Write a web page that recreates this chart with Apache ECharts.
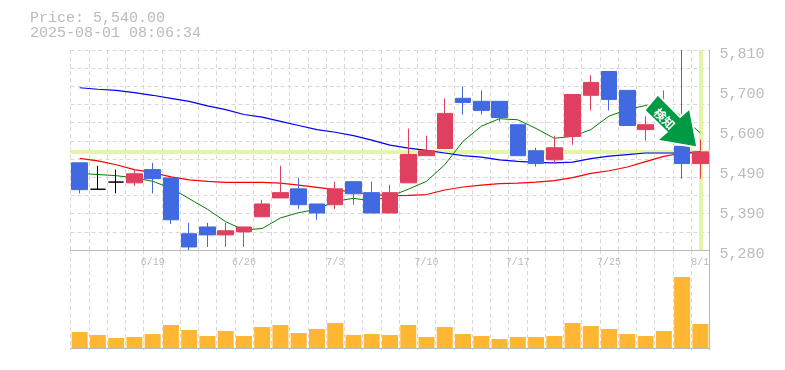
<!DOCTYPE html>
<html>
<head>
<meta charset="utf-8">
<style>html,body{margin:0;padding:0;background:#fff}#chart{width:785px;height:370px}</style>
<script src="https://cdn.jsdelivr.net/npm/echarts@6/dist/echarts.min.js"></script>
</head>
<body>
<div id="chart"></div>
<script>
var dates = ['6/13','6/16','6/17','6/18','6/19','6/20','6/23','6/24','6/25','6/26','6/27','6/30','7/1','7/2','7/3','7/4','7/7','7/8','7/9','7/10','7/11','7/14','7/15','7/16','7/17','7/18','7/22','7/23','7/24','7/25','7/28','7/29','7/30','7/31','8/1'];
// open, close, low, high
var candles = [
  [5511,5440,5430,5511],[5441,5441,5441,5503],[5460,5460,5430,5493],[5458,5482,5450,5494],[5493,5469,5430,5511],
  [5471,5360,5349,5471],[5323,5288,5280,5352],[5341,5320,5288,5352],[5320,5331,5288,5352],[5328,5341,5288,5341],
  [5368,5402,5368,5413],[5418,5432,5418,5503],[5442,5400,5389,5471],[5402,5378,5360,5402],[5400,5442,5389,5461],
  [5461,5429,5400,5461],[5432,5378,5378,5461],[5378,5432,5378,5453],[5458,5533,5458,5602],[5530,5543,5530,5583],
  [5549,5642,5549,5682],[5682,5671,5639,5713],[5674,5650,5639,5703],[5674,5631,5620,5674],[5612,5530,5530,5612],
  [5543,5509,5501,5551],[5519,5551,5509,5583],[5581,5692,5559,5692],[5690,5724,5650,5743],[5753,5679,5650,5753],
  [5703,5610,5610,5703],[5599,5612,5570,5634],[5630,5650,5600,5703],[5555,5509,5469,5810],[5509,5540,5469,5573]
];
var maShort = [5483,5480,5477,5471,5462,5444,5416,5388,5355,5333,5337,5365,5379,5388,5409,5417,5410,5422,5441,5462,5506,5568,5608,5628,5625,5602,5576,5581,5599,5635,5652,5663,5668,5633,5590];
var maMid = [5523,5516,5506,5493,5485,5474,5466,5462,5459,5459,5459,5457,5452,5446,5440,5433,5427,5424,5425,5427,5439,5447,5452,5456,5457,5460,5464,5472,5483,5490,5500,5514,5528,5537,5541];
var maLong = [5710,5706,5703,5697,5690,5682,5674,5662,5652,5639,5632,5621,5610,5599,5592,5583,5571,5558,5550,5544,5537,5530,5526,5519,5515,5512,5511,5513,5522,5529,5533,5537,5537,5537,5538];
var volumes = [16000,13000,10000,11000,14000,23000,18000,12000,17000,12000,21000,23000,15000,19000,25000,13000,14000,13000,23000,11000,21000,14000,12000,9000,11000,11000,12000,25000,22000,19000,14000,12000,17000,71000,24000];
var priceTicks = [5280,5386,5492,5598,5704,5810];
var currentPrice = 5540;

var mono = '"Liberation Mono", monospace';
var grey = '#bbbbbb';
var dash = {color:'#d8d8d8', width:1, type:[4,3]};
var arrowPath = 'path://M13 0 L0 15.3 L21.5 36 L12 44.3 L51 51 L43.7 13.3 L34.3 21.6 Z';

var myChart = echarts.init(document.getElementById('chart'));
myChart.setOption({
  animation: false,
  backgroundColor: '#fff',
  title: {
    text: 'Price: 5,540.00\n2025-08-01 08:06:34',
    left: 25, top: 6,
    textStyle: {fontFamily: mono, fontSize: 15, fontWeight: 'normal', color: grey, lineHeight: 15}
  },
  grid: [
    {left: 70.5, top: 50, width: 639, height: 200},
    {left: 70.5, top: 250, width: 639, height: 100}
  ],
  xAxis: [
    {
      type: 'category', gridIndex: 0, data: dates,
      axisLine: {lineStyle: {color: grey, width: 1}},
      axisTick: {show: false},
      axisLabel: {
        color: grey, fontFamily: mono, fontSize: 10, margin: 7,
        interval: function (i) { return (i + 1) % 5 === 0; }
      },
      splitLine: {show: true, interval: 0, lineStyle: dash}
    },
    {
      type: 'category', gridIndex: 1, data: dates,
      axisLine: {lineStyle: {color: grey, width: 1}},
      axisTick: {show: false},
      axisLabel: {show: false},
      splitLine: {show: true, interval: 0, lineStyle: dash}
    }
  ],
  yAxis: [
    {
      type: 'value', gridIndex: 0, position: 'right', min: 5280, max: 5810, scale: true,
      axisLine: {show: true, lineStyle: {color: grey, width: 1}},
      axisTick: {show: false},
      splitLine: {show: false},
      axisLabel: {
        color: grey, fontFamily: mono, fontSize: 15, margin: 10,
        customValues: priceTicks, verticalAlign: 'top', lineHeight: 9,
        formatter: function (v) { return (Math.round(v / 10) * 10).toLocaleString('en-US'); }
      }
    },
    {
      // only there for the dashed rows, they do not line up with the price labels
      type: 'value', gridIndex: 0, min: 0, max: 11, interval: 1,
      axisLine: {show: false}, axisTick: {show: false}, axisLabel: {show: false},
      splitLine: {show: true, lineStyle: dash}
    },
    {
      type: 'value', gridIndex: 1, position: 'right', min: -2000, max: 98000,
      axisLine: {show: true, lineStyle: {color: grey, width: 1}},
      axisTick: {show: false}, axisLabel: {show: false}, splitLine: {show: false}
    }
  ],
  series: [
    {
      type: 'line', xAxisIndex: 0, yAxisIndex: 0, data: [], z: 1, silent: true,
      markLine: {
        silent: true, symbol: 'none', z: 1,
        label: {show: false},
        lineStyle: {color: '#e4f5a8', width: 4, type: 'solid'},
        data: [{yAxis: currentPrice}, {xAxis: dates[dates.length - 1]}]
      }
    },
    {type: 'line', name: 'long', xAxisIndex: 0, yAxisIndex: 0, data: maLong, z: 2, showSymbol: false, lineStyle: {color: '#0000ff', width: 1.2}},
    {type: 'line', name: 'mid', xAxisIndex: 0, yAxisIndex: 0, data: maMid, z: 2, showSymbol: false, lineStyle: {color: '#ff0000', width: 1.2}},
    {type: 'line', name: 'short', xAxisIndex: 0, yAxisIndex: 0, data: maShort, z: 2, showSymbol: false, lineStyle: {color: '#008000', width: 1}},
    {
      type: 'candlestick', xAxisIndex: 0, yAxisIndex: 0, data: candles, z: 3, barWidth: 16,
      itemStyle: {
        color: '#e0405f', color0: '#4169e1',
        borderColor: '#e0405f', borderColor0: '#4169e1', borderColorDoji: '#000000', borderWidth: 1
      },
      markPoint: {
        z: 20, silent: true,
        data: [{
          coord: ['7/30', 5622],
          symbol: arrowPath, symbolSize: 53, symbolOffset: [7, 0],
          itemStyle: {color: '#009944', borderColor: '#ffffff', borderWidth: 2},
          label: {
            show: true, formatter: '検知', rotate: -45, position: 'inside', offset: [-6, 3],
            color: '#ffffff', fontFamily: '"Noto Sans CJK JP"', fontWeight: 'bold', fontSize: 12
          }
        }]
      }
    },
    {type: 'bar', xAxisIndex: 1, yAxisIndex: 2, data: volumes, barWidth: 16, itemStyle: {color: '#ffb733'}}
  ]
});
</script>
</body>
</html>
